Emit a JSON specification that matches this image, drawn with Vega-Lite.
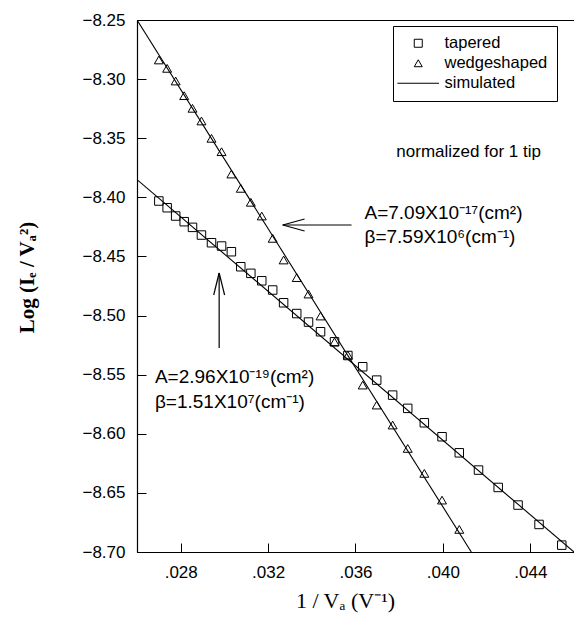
{
  "$schema": "https://vega.github.io/schema/vega-lite/v6.json",
  "width": 437,
  "height": 532,
  "autosize": {"type": "none"},
  "padding": {"left": 137, "top": 20, "right": 0, "bottom": 78},
  "background": "white",
  "config": {
    "view": {"stroke": "black", "strokeWidth": 1},
    "font": "Liberation Sans",
    "axis": {"grid": false, "domainColor": "black", "tickColor": "black", "labelColor": "black", "titleColor": "black", "domainWidth": 1.2, "tickWidth": 1}
  },
  "datasets": {
    "pts": [
      {"x": 0.02700, "y": -8.2838, "series": "wedgeshaped"},
      {"x": 0.02738, "y": -8.2909, "series": "wedgeshaped"},
      {"x": 0.02777, "y": -8.3016, "series": "wedgeshaped"},
      {"x": 0.02816, "y": -8.3140, "series": "wedgeshaped"},
      {"x": 0.02854, "y": -8.3247, "series": "wedgeshaped"},
      {"x": 0.02895, "y": -8.3354, "series": "wedgeshaped"},
      {"x": 0.02941, "y": -8.3501, "series": "wedgeshaped"},
      {"x": 0.02987, "y": -8.3614, "series": "wedgeshaped"},
      {"x": 0.03032, "y": -8.3803, "series": "wedgeshaped"},
      {"x": 0.03075, "y": -8.3924, "series": "wedgeshaped"},
      {"x": 0.03121, "y": -8.4042, "series": "wedgeshaped"},
      {"x": 0.03171, "y": -8.4158, "series": "wedgeshaped"},
      {"x": 0.03221, "y": -8.4347, "series": "wedgeshaped"},
      {"x": 0.03271, "y": -8.4530, "series": "wedgeshaped"},
      {"x": 0.03331, "y": -8.4679, "series": "wedgeshaped"},
      {"x": 0.03385, "y": -8.4818, "series": "wedgeshaped"},
      {"x": 0.03440, "y": -8.5004, "series": "wedgeshaped"},
      {"x": 0.03504, "y": -8.5222, "series": "wedgeshaped"},
      {"x": 0.03565, "y": -8.5334, "series": "wedgeshaped"},
      {"x": 0.03633, "y": -8.5588, "series": "wedgeshaped"},
      {"x": 0.03697, "y": -8.5757, "series": "wedgeshaped"},
      {"x": 0.03770, "y": -8.5926, "series": "wedgeshaped"},
      {"x": 0.03839, "y": -8.6124, "series": "wedgeshaped"},
      {"x": 0.03915, "y": -8.6335, "series": "wedgeshaped"},
      {"x": 0.03996, "y": -8.6561, "series": "wedgeshaped"},
      {"x": 0.04075, "y": -8.6809, "series": "wedgeshaped"},
      {"x": 0.02700, "y": -8.4031, "series": "tapered"},
      {"x": 0.02738, "y": -8.4088, "series": "tapered"},
      {"x": 0.02777, "y": -8.4158, "series": "tapered"},
      {"x": 0.02816, "y": -8.4206, "series": "tapered"},
      {"x": 0.02854, "y": -8.4254, "series": "tapered"},
      {"x": 0.02895, "y": -8.4319, "series": "tapered"},
      {"x": 0.02941, "y": -8.4384, "series": "tapered"},
      {"x": 0.02987, "y": -8.4412, "series": "tapered"},
      {"x": 0.03032, "y": -8.4460, "series": "tapered"},
      {"x": 0.03075, "y": -8.4587, "series": "tapered"},
      {"x": 0.03121, "y": -8.4643, "series": "tapered"},
      {"x": 0.03171, "y": -8.4706, "series": "tapered"},
      {"x": 0.03221, "y": -8.4784, "series": "tapered"},
      {"x": 0.03271, "y": -8.4892, "series": "tapered"},
      {"x": 0.03331, "y": -8.4983, "series": "tapered"},
      {"x": 0.03385, "y": -8.5055, "series": "tapered"},
      {"x": 0.03440, "y": -8.5137, "series": "tapered"},
      {"x": 0.03504, "y": -8.5222, "series": "tapered"},
      {"x": 0.03565, "y": -8.5338, "series": "tapered"},
      {"x": 0.03633, "y": -8.5433, "series": "tapered"},
      {"x": 0.03697, "y": -8.5546, "series": "tapered"},
      {"x": 0.03770, "y": -8.5673, "series": "tapered"},
      {"x": 0.03839, "y": -8.5785, "series": "tapered"},
      {"x": 0.03915, "y": -8.5907, "series": "tapered"},
      {"x": 0.03996, "y": -8.6025, "series": "tapered"},
      {"x": 0.04075, "y": -8.6161, "series": "tapered"},
      {"x": 0.04163, "y": -8.6307, "series": "tapered"},
      {"x": 0.04253, "y": -8.6454, "series": "tapered"},
      {"x": 0.04344, "y": -8.6603, "series": "tapered"},
      {"x": 0.04440, "y": -8.6767, "series": "tapered"},
      {"x": 0.04544, "y": -8.6942, "series": "tapered"}
    ],
    "fits": [
      {"x": 0.026, "y": -8.25, "fit": "wedgeshaped"},
      {"x": 0.0413, "y": -8.70, "fit": "wedgeshaped"},
      {"x": 0.026, "y": -8.385, "fit": "tapered"},
      {"x": 0.046, "y": -8.70, "fit": "tapered"}
    ],
    "arrows": [
      {"x": 0.03267, "y": -8.4234, "seg": "a1s", "o": 1},
      {"x": 0.03582, "y": -8.4234, "seg": "a1s", "o": 2},
      {"x": 0.03267, "y": -8.4234, "seg": "a1u", "o": 1},
      {"x": 0.03367, "y": -8.4183, "seg": "a1u", "o": 2},
      {"x": 0.03267, "y": -8.4234, "seg": "a1d", "o": 1},
      {"x": 0.03367, "y": -8.4285, "seg": "a1d", "o": 2},
      {"x": 0.02976, "y": -8.5275, "seg": "a2s", "o": 1},
      {"x": 0.02976, "y": -8.4640, "seg": "a2s", "o": 2},
      {"x": 0.02976, "y": -8.4640, "seg": "a2l", "o": 1},
      {"x": 0.02951, "y": -8.4826, "seg": "a2l", "o": 2},
      {"x": 0.02976, "y": -8.4640, "seg": "a2r", "o": 1},
      {"x": 0.03001, "y": -8.4826, "seg": "a2r", "o": 2}
    ],
    "notes": [
      {"x": 0.03641, "y": -8.4133, "label": "A=7.09X10⁻¹⁷(cm²)"},
      {"x": 0.03641, "y": -8.4336, "label": "β=7.59X10⁶(cm⁻¹)"},
      {"x": 0.02682, "y": -8.5520, "label": "A=2.96X10⁻¹⁹(cm²)"},
      {"x": 0.02682, "y": -8.5732, "label": "β=1.51X10⁷(cm⁻¹)"},
      {"x": 0.03787, "y": -8.3620, "label": "normalized for 1 tip"}
    ]
  },
  "layer": [
    {
      "data": {"name": "fits"},
      "mark": {"type": "line", "color": "black", "strokeWidth": 1.1, "clip": true},
      "encoding": {
        "x": {"field": "x", "type": "quantitative", "scale": {"domain": [0.026, 0.046], "nice": false, "zero": false},
          "axis": {"values": [0.028, 0.032, 0.036, 0.040, 0.044], "labelExpr": "replace(format(datum.value, '.3f'), '0.', '.')", "tickSize": -9, "labelPadding": 21, "labelFontSize": 17, "labelFont": "Liberation Sans",
            "title": "1 / Vₐ (V⁻¹)", "titleFont": "Liberation Serif", "titleFontSize": 22, "titleFontWeight": "normal", "titleX": 208, "titleY": 48, "titleBaseline": "middle", "titleAlign": "center"}},
        "y": {"field": "y", "type": "quantitative", "scale": {"domain": [-8.70, -8.25], "nice": false, "zero": false},
          "axis": {"values": [-8.25, -8.30, -8.35, -8.40, -8.45, -8.50, -8.55, -8.60, -8.65, -8.70], "format": ".2f", "tickSize": -9, "labelPadding": 21, "labelFontSize": 17, "labelFont": "Liberation Sans",
            "title": "Log (Iₑ / Vₐ²)", "titleFont": "Liberation Serif", "titleFontSize": 21, "titleFontWeight": "bold", "titleAngle": 270, "titleX": -110, "titleY": 257, "titleBaseline": "middle", "titleAlign": "center"}},
        "detail": {"field": "fit"}
      }
    },
    {
      "data": {"name": "pts"},
      "mark": {"type": "point", "filled": false, "color": "black", "strokeWidth": 1, "opacity": 1},
      "encoding": {
        "x": {"field": "x", "type": "quantitative"},
        "y": {"field": "y", "type": "quantitative"},
        "shape": {"field": "series", "type": "nominal",
          "scale": {"domain": ["tapered", "wedgeshaped", "simulated"], "range": ["square", "triangle-up", "M-5.2,0L5.2,0"]},
          "legend": {"title": null, "orient": "none", "legendX": 256, "legendY": 6, "strokeColor": "black", "padding": 9, "rowPadding": 3, "labelFontSize": 16.5, "labelFont": "Liberation Sans", "labelColor": "black", "labelOffset": 18, "symbolOffset": 8, "symbolSize": 64, "symbolStrokeColor": "black", "symbolStrokeWidth": 1, "symbolFillColor": "transparent"}
        },
        "size": {"condition": {"test": "datum.series === 'tapered'", "value": 72}, "value": 80}
      }
    },
    {
      "data": {"name": "arrows"},
      "mark": {"type": "line", "color": "black", "strokeWidth": 1.2},
      "encoding": {
        "x": {"field": "x", "type": "quantitative"},
        "y": {"field": "y", "type": "quantitative"},
        "detail": {"field": "seg"},
        "order": {"field": "o"}
      }
    },
    {
      "data": {"name": "notes"},
      "mark": {"type": "text", "align": "left", "baseline": "middle", "font": "Liberation Sans", "color": "black"},
      "encoding": {
        "x": {"field": "x", "type": "quantitative"},
        "y": {"field": "y", "type": "quantitative"},
        "text": {"field": "label"},
        "size": {"condition": {"test": "datum.label === 'normalized for 1 tip'", "value": 17}, "value": 19}
      }
    }
  ]
}
